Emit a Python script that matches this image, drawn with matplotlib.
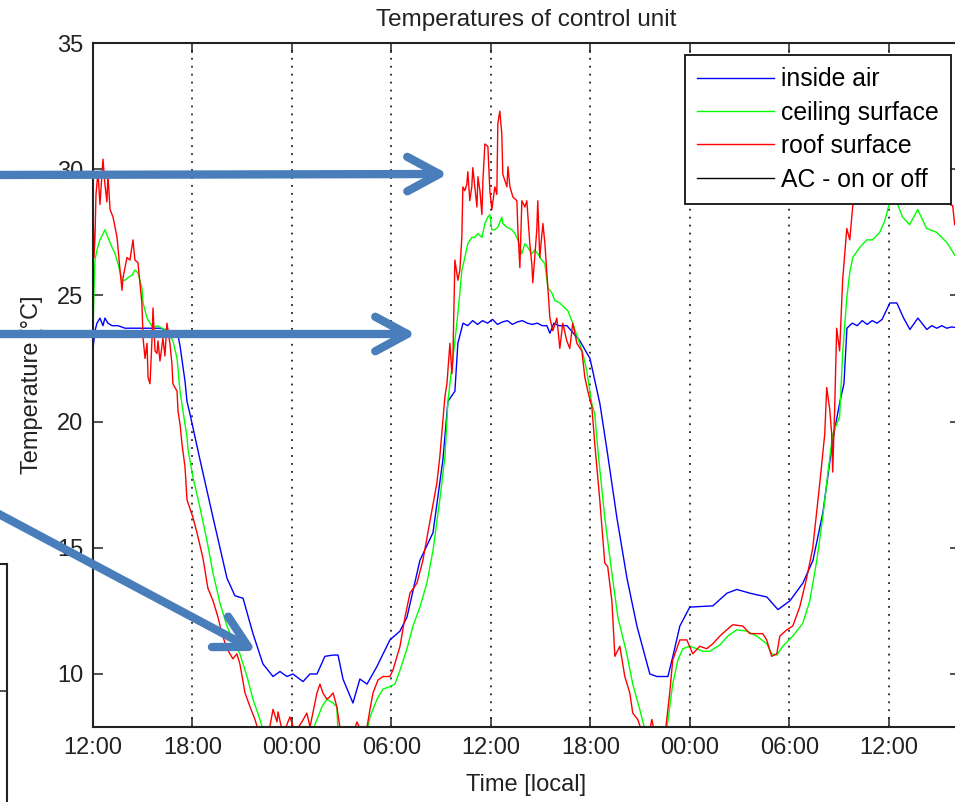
import matplotlib
matplotlib.use("Agg")
import matplotlib.pyplot as plt
from matplotlib.patches import FancyArrowPatch, ArrowStyle

plt.rcParams['font.family'] = ['Liberation Sans', 'DejaVu Sans']

# ---- data (hours since 12:00 of day 1, temperature in deg C) ----
inside_t = [0.00, 0.12, 0.24, 0.42, 0.60, 0.72, 0.90, 1.15, 1.51, 1.93, 2.23, 2.83, 3.44, 4.04,
            4.64, 4.95, 5.13, 5.25, 5.55, 5.67, 5.85, 6.45, 7.24, 7.66, 8.08, 8.56, 9.05, 9.65,
            10.25, 10.86, 11.28, 11.70, 12.06, 12.67, 13.09, 13.51, 13.99, 14.48, 14.78, 15.08,
            15.68, 16.10, 16.53, 17.13, 17.91, 18.52, 18.94, 19.72, 20.51, 21.11, 21.41, 21.83,
            22.01, 22.32, 22.6, 22.9, 23.2, 23.5, 23.8, 24.1, 24.4, 24.7, 25.0, 25.3, 25.6, 25.9,
            26.2, 26.5, 26.8, 27.1, 27.38, 27.56, 27.8, 28.1, 28.59, 29.37, 29.98, 30.58, 31.00,
            31.60, 32.21, 32.81, 33.59, 34.02, 34.68, 34.98, 35.40, 36.00, 37.39, 38.24, 38.84,
            39.63, 40.65, 41.32, 42.04, 42.82, 43.43, 44.03, 44.63, 45.06, 45.30, 45.48, 45.8,
            46.1, 46.4, 46.7, 47.0, 47.3, 47.6, 48.07, 48.49, 48.9, 49.28, 49.76, 50.30, 50.6,
            50.9, 51.2, 51.5, 51.8, 52.3]
inside_v = [22.9, 23.6, 23.9, 24.1, 23.8, 24.1, 23.9, 23.8, 23.8, 23.7, 23.7, 23.7, 23.7, 23.7,
            23.6, 23.6, 23.4, 23.0, 21.6, 20.8, 20.3, 18.5, 16.2, 15.0, 13.8, 13.1, 13.0, 11.6,
            10.4, 9.9, 10.1, 9.9, 10.0, 9.7, 10.0, 10.0, 10.7, 10.75, 10.75, 9.8,
            8.85, 9.8, 9.6, 10.3, 11.35, 11.7, 12.25, 14.5, 15.6, 18.5, 20.8, 21.2,
            23.1, 23.9, 23.8, 24.0, 23.85, 24.0, 23.9, 24.05, 23.85, 23.95, 24.0, 23.85, 23.95, 24.0,
            23.9, 23.85, 23.9, 23.8, 23.8, 23.5, 23.9, 23.8, 23.8, 23.2, 22.5, 20.7, 18.9,
            16.2, 13.8, 11.9, 10.0, 9.9, 9.9, 10.7, 11.9, 12.65, 12.7, 13.2, 13.35,
            13.2, 13.05, 12.55, 12.9, 13.6, 14.5, 16.4, 19.3, 20.8, 21.5, 23.7, 23.9,
            23.8, 24.0, 23.85, 24.0, 23.9, 24.05, 24.7, 24.7, 24.1, 23.65, 24.1, 23.65, 23.8,
            23.7, 23.8, 23.7, 23.75, 23.7]

ceiling_t = [0.00, 0.06, 0.12, 0.24, 0.42, 0.72, 0.90, 1.15, 1.33, 1.51, 1.75, 1.93, 2.11, 2.35,
             2.53, 2.71, 2.95, 3.02, 3.26, 3.44, 3.62, 3.86, 4.16, 4.46, 4.82, 5.07, 5.25, 5.43,
             5.67, 5.73, 6.03, 6.45, 6.87, 7.24, 7.66, 8.08, 8.44, 8.86, 9.29, 9.65, 10.07, 10.25,
             10.67, 11.88, 13.09, 13.51, 13.81, 14.11, 14.48, 14.71, 14.77, 15.20, 16.10, 16.53,
             16.71, 17.13, 17.49, 17.91, 18.21, 18.52, 18.94, 19.30, 19.72, 20.14, 20.51, 20.92,
             21.23, 21.41, 21.53, 21.71, 21.95, 22.13, 22.25, 22.43, 22.61, 22.85, 23.03, 23.22,
             23.46, 23.64, 23.82, 23.94, 24.06, 24.24, 24.42, 24.66, 24.72, 24.97, 25.27, 25.45,
             25.63, 25.87, 26.05, 26.23, 26.47, 26.65, 26.83, 27.08, 27.26, 27.44, 27.68, 27.86,
             28.16, 28.46, 28.64, 28.94, 29.25, 29.55, 29.79, 29.97, 30.09, 30.27, 30.45, 30.87,
             31.30, 31.66, 32.20, 32.56, 32.98, 33.29, 33.89, 34.61, 34.79, 34.97, 35.28, 35.58,
             36.00, 36.42, 36.78, 37.21, 37.81, 38.29, 38.83, 39.44, 40.04, 40.64, 40.94, 41.25,
             41.61, 42.21, 42.81, 43.24, 43.66, 44.02, 44.32, 44.62, 45.04, 45.22, 45.47, 45.65,
             45.83, 46.25, 46.67, 47.03, 47.46, 47.76, 48.06, 48.24, 48.48, 48.84, 49.26, 49.75,
             50.29, 50.89, 51.50, 51.98, 52.3]
ceiling_v = [23.5, 25.2, 26.4, 26.8, 27.2, 27.6, 27.3, 26.9, 26.65, 26.25, 25.6, 25.6, 25.7, 25.8,
             26.0, 25.9, 25.3, 24.7, 24.1, 23.9, 23.7, 23.8, 23.7, 23.6, 23.2, 22.5, 21.2, 20.4,
             19.4, 18.9, 17.8, 16.6, 15.3, 14.0, 12.8, 11.9, 11.35, 10.8, 9.9, 9.0, 8.2, 7.8,
             7.3, 7.0, 7.5, 8.2, 8.7, 9.0, 8.85, 8.7, 7.8, 7.1, 7.1, 7.7,
             8.3, 9.0, 9.4, 9.5, 9.6, 10.15, 11.0, 11.9, 12.65, 13.6, 14.9, 16.9,
             18.6, 20.8, 21.5, 22.5, 23.9, 25.1, 26.0, 26.5, 27.05, 27.3, 27.3, 27.45,
             27.3, 27.85, 28.1, 28.2, 27.6, 27.6, 27.7, 28.1, 27.85, 27.7, 27.6, 27.45,
             27.2, 26.65, 27.05, 26.9, 26.65, 26.8, 26.65, 26.4, 26.25, 25.3, 25.1, 24.8,
             24.7, 24.5, 24.4, 23.9, 23.3, 22.7, 22.0, 21.2, 20.7, 20.3, 18.9, 16.2,
             14.0, 12.25, 10.8, 9.6, 8.6, 7.8, 7.2, 7.8, 8.7, 9.6, 10.55, 11.0,
             11.1, 11.0, 10.9, 10.9, 11.15, 11.5, 11.75, 11.7, 11.5, 11.2, 10.8, 10.75,
             11.1, 11.5, 12.0, 12.9, 14.5, 16.2, 17.9, 19.5, 20.2, 22.7, 24.9, 25.9,
             26.5, 26.9, 27.2, 27.2, 27.5, 27.95, 28.7, 29.0, 28.7, 28.1, 27.8, 28.4,
             27.65, 27.5, 27.1, 26.6, 26.4]

roof_t = [0.00, 0.06, 0.12, 0.18, 0.30, 0.42, 0.60, 0.72, 0.84, 0.90, 1.03, 1.21, 1.45, 1.63,
          1.75, 1.81, 2.05, 2.23, 2.41, 2.53, 2.71, 2.83, 2.95, 3.02, 3.14, 3.26, 3.32, 3.44,
          3.56, 3.62, 3.74, 3.86, 3.92, 4.04, 4.22, 4.34, 4.46, 4.64, 4.76, 4.82, 5.07, 5.13,
          5.25, 5.37, 5.55, 5.67, 6.03, 6.27, 6.63, 6.93, 7.24, 7.54, 7.78, 8.08, 8.26, 8.44,
          8.68, 8.86, 9.17, 9.47, 9.77, 9.95, 10.19, 10.55, 10.86, 11.10, 11.16, 11.46, 11.88,
          12.18, 12.60, 12.90, 13.09, 13.51, 13.69, 13.87, 14.11, 14.29, 14.48, 14.71, 14.89,
          15.20, 15.50, 15.92, 16.22, 16.53, 16.71, 16.89, 17.19, 17.49, 17.91, 18.09, 18.52,
          18.82, 19.12, 19.54, 19.90, 20.20, 20.74, 20.92, 21.11, 21.23, 21.35, 21.53, 21.65,
          21.71, 21.83, 22.01, 22.13, 22.25, 22.31, 22.43, 22.55, 22.61, 22.73, 22.85, 22.91,
          23.16, 23.22, 23.34, 23.46, 23.52, 23.64, 23.82, 23.94, 24.06, 24.24, 24.36, 24.42,
          24.54, 24.66, 24.72, 24.97, 25.03, 25.15, 25.33, 25.57, 25.63, 25.75, 25.87, 26.05,
          26.17, 26.35, 26.47, 26.53, 26.77, 26.83, 26.95, 27.14, 27.26, 27.44, 27.56, 27.74,
          27.98, 28.16, 28.34, 28.58, 28.76, 28.94, 29.19, 29.49, 29.67, 29.85, 30.09, 30.27,
          30.57, 30.87, 31.05, 31.30, 31.48, 31.78, 32.08, 32.38, 32.56, 32.86, 33.17, 33.47,
          33.71, 33.89, 34.19, 34.49, 34.79, 34.97, 35.40, 35.82, 36.18, 36.60, 37.02, 37.39,
          37.81, 38.23, 38.59, 39.20, 39.62, 40.40, 40.64, 40.94, 41.25, 41.43, 41.85, 42.21,
          42.63, 43.05, 43.42, 43.84, 44.14, 44.26, 44.44, 44.56, 44.62, 44.74, 44.86, 45.04,
          45.22, 45.47, 45.65, 45.83, 46.07, 46.4, 46.8, 47.2, 47.6, 48.0, 48.4, 48.8, 49.2,
          49.6, 50.0, 50.4, 50.8, 51.2, 51.5, 51.7, 51.86, 51.98, 52.3]
roof_v = [28.5, 26.5, 27.3, 29.0, 29.9, 28.6, 30.4, 29.4, 28.7, 29.8, 28.4, 28.1, 27.3, 26.0,
          25.2, 25.7, 26.5, 26.4, 27.2, 26.4, 26.3, 25.5, 24.7, 23.3, 22.5, 23.1, 21.75, 21.5,
          23.3, 24.5, 22.8, 22.7, 23.2, 22.4, 23.3, 22.6, 23.9, 23.1, 22.3, 21.5, 21.2, 20.4,
          19.9, 19.1, 18.2, 16.9, 16.2, 15.6, 14.6, 13.4, 12.9, 12.25, 11.6, 11.0, 10.8, 10.6,
          10.8, 10.4, 9.25, 8.7, 8.2, 7.8, 7.3, 7.5, 8.6, 8.1, 8.5, 7.6, 8.3,
          7.7, 8.1, 8.45, 7.9, 9.25, 9.6, 9.25, 9.0, 9.1, 9.25, 8.7, 7.9,
          7.3, 7.2, 8.1, 7.7, 7.9, 8.6, 9.25, 9.76, 9.9, 9.9, 10.15, 11.1,
          12.25, 13.2, 13.6, 14.5, 15.6, 17.55, 18.6, 20.05, 21.0, 21.5, 23.1, 21.9,
          22.5, 26.4, 25.6, 26.0, 27.3, 29.3, 29.15, 29.4, 29.9, 28.75, 29.3, 30.06,
          28.5, 29.7, 29.15, 28.2, 29.55, 31.0, 30.9, 29.15, 28.4, 29.3, 29.0, 31.8,
          32.3, 31.4, 29.8, 29.3, 30.1, 29.3, 28.9, 28.75, 27.6, 26.1, 28.75, 28.5,
          28.75, 27.05, 26.25, 25.5, 27.6, 28.75, 26.5, 27.85, 27.05, 25.3, 24.1, 23.6,
          24.1, 22.9, 23.9, 23.2, 22.9, 23.9, 23.1, 22.8, 21.75, 21.2, 20.6, 19.1,
          16.9, 14.4, 14.25, 12.9, 10.7, 11.1, 9.9, 9.25, 8.45, 8.2, 7.6, 7.4,
          8.2, 7.6, 7.3, 7.5, 9.25, 10.55, 11.35, 11.35, 10.8, 11.1, 11.0, 11.2,
          11.5, 11.75, 11.95, 11.9, 11.6, 11.6, 11.35, 10.7, 10.8, 11.5, 11.75, 11.9,
          12.65, 13.8, 15.0, 17.55, 19.5, 21.35, 20.5, 19.5, 18.0, 20.5, 23.7, 22.8,
          25.6, 27.65, 27.2, 28.55, 28.8, 29.6, 30.2, 29.8, 30.6, 31.0, 30.4, 30.8, 29.9,
          30.3, 29.7, 30.0, 29.4, 29.6, 29.1, 28.6, 28.55, 27.8, 28.3]

series_labels = ['inside air', 'ceiling surface', 'roof surface', 'AC - on or off']
series_colors = ['#0000ff', '#00ff00', '#ff0000', '#000000']

x_ticks = [0, 6, 12, 18, 24, 30, 36, 42, 48]
x_tick_labels = ['12:00', '18:00', '00:00', '06:00', '12:00', '18:00', '00:00', '06:00', '12:00']
y_ticks = [10, 15, 20, 25, 30, 35]
x_range = (0, 52.3)
y_range = (7.9, 35)

# ---- figure ----
W, H = 955, 802
fig = plt.figure(figsize=(W / 100, H / 100), dpi=100)
fig.patch.set_facecolor('white')

def fx(px):
    return px / W

def fy(py):
    return 1 - py / H

ax = fig.add_axes([fx(93), fy(727), fx(960) - fx(93), fy(43) - fy(727)])
ax.plot(inside_t, inside_v, color=series_colors[0], lw=1.0, label=series_labels[0])
ax.plot(ceiling_t, ceiling_v, color=series_colors[1], lw=1.0, label=series_labels[1])
ax.plot(roof_t, roof_v, color=series_colors[2], lw=1.0, label=series_labels[2])
ax.plot([], [], color=series_colors[3], lw=1.0, label=series_labels[3])

ax.set_xlim(*x_range)
ax.set_ylim(*y_range)
ax.set_xticks(x_ticks)
ax.set_xticklabels(x_tick_labels)
ax.set_yticks(y_ticks)
for xt in x_ticks[1:]:
    ax.axvline(xt, color='#222222', lw=1.3, linestyle=(0, (1, 3.4)), zorder=0.5)

ax.tick_params(axis='both', which='both', direction='in', length=7.5, width=1.1,
               top=True, right=True, labelsize=17, colors='#222222', pad=7)
for s in ax.spines.values():
    s.set_linewidth(1.5)
    s.set_color('#222222')

ax.set_title('Temperatures of control unit', fontsize=17.5, pad=12, color='#222222')
ax.set_xlabel('Time [local]', fontsize=17, color='#222222')
ax.xaxis.set_label_coords(0.5, -0.068)
ax.set_ylabel('Temperature [\u00b0C]', fontsize=17, color='#222222')
ax.yaxis.set_label_coords(-0.058, 0.5)

leg = ax.legend(loc='upper right', bbox_to_anchor=(fx(951), fy(55)),
                bbox_transform=fig.transFigure, borderaxespad=0, fontsize=17.8,
                fancybox=False, framealpha=1, edgecolor='#111111', handlelength=3.1,
                handletextpad=0.28, labelspacing=0.38, borderpad=0.5)
leg.get_frame().set_linewidth(1.3)

# partial neighbouring panel at the left edge
ax2 = fig.add_axes([fx(-300), fy(1000), fx(7) - fx(-300), fy(564) - fy(1000)])
ax2.set_xlim(0, 1)
ax2.set_ylim(0, 1)
ax2.set_xticks([])
ax2.yaxis.tick_right()
ax2.set_yticks([(1000 - 691) / (1000 - 564)])
ax2.set_yticklabels([])
ax2.tick_params(axis='y', direction='in', length=7.5, width=1.1, colors='#222222')
for s in ax2.spines.values():
    s.set_linewidth(1.5)
    s.set_color('#222222')

# annotation arrows
arrow_color = '#4a7ebb'
arrows = [((-20, 175), (448, 174)), ((-20, 334), (416, 334)), ((-20, 504), (256, 651))]
for (x0, y0), (x1, y1) in arrows:
    ap = FancyArrowPatch((fx(x0), fy(y0)), (fx(x1), fy(y1)), transform=fig.transFigure,
                         arrowstyle=ArrowStyle('->', head_length=1.15, head_width=0.62),
                         mutation_scale=20, lw=6, color=arrow_color, capstyle='round',
                         joinstyle='round', shrinkA=0, shrinkB=0)
    fig.add_artist(ap)

fig.savefig('out.png', dpi=100)
